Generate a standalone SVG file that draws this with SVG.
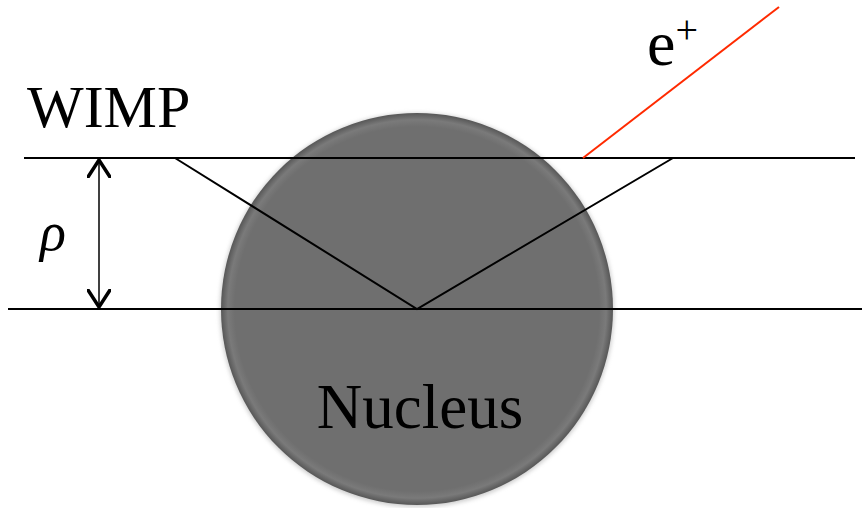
<svg xmlns="http://www.w3.org/2000/svg" width="862" height="508" viewBox="0 0 862 508">
<defs>
<style>
.ln{stroke:#000;stroke-width:2;fill:none}
.txt{font-family:'Liberation Serif','Times New Roman',serif;fill:#000}
</style>
<radialGradient id="g" cx="0.5" cy="0.5" r="0.5">
<stop offset="0" stop-color="#6f6f6f"/>
<stop offset="0.93" stop-color="#6f6f6f"/>
<stop offset="0.965" stop-color="#7a7a7a"/>
<stop offset="1" stop-color="#575757"/>
</radialGradient>
<filter id="sh" x="-10%" y="-10%" width="120%" height="120%">
<feGaussianBlur stdDeviation="2"/>
</filter>
<marker id="ah" viewBox="0 0 20 24" refX="18" refY="12" markerWidth="20" markerHeight="24" markerUnits="userSpaceOnUse" orient="auto-start-reverse">
<path d="M1,1 L18,12 L1,23" fill="none" stroke="#000" stroke-width="3.5" stroke-linecap="round"/>
</marker>
</defs>
<g id="nucleus">
<circle cx="417" cy="310" r="197" fill="#999" opacity="0.5" filter="url(#sh)"/>
<circle cx="417" cy="309" r="196" fill="url(#g)"/>
<text class="txt" x="420" y="428" font-size="63" text-anchor="middle">Nucleus</text>
</g>
<g id="connectors">
<line class="ln" x1="24" y1="158" x2="855" y2="158"/>
<line class="ln" x1="8" y1="309" x2="862" y2="309"/>
<polyline class="ln" points="175,158 417,309 673,158"/>
<line x1="583" y1="158" x2="779" y2="7" stroke="#ff2a00" stroke-width="2"/>
<line x1="99" y1="160" x2="99" y2="307" stroke="#000" stroke-width="1.5" marker-start="url(#ah)" marker-end="url(#ah)"/>
</g>
<g id="wimp">
<text class="txt" x="27" y="127" font-size="60">WIMP</text>
</g>
<g id="rho">
<text class="txt" x="40" y="250" font-size="54" font-style="italic">ρ</text>
</g>
<g id="positron">
<text class="txt" x="647" y="65" font-size="64">e<tspan font-size="40" dy="-22">+</tspan></text>
</g>
</svg>
